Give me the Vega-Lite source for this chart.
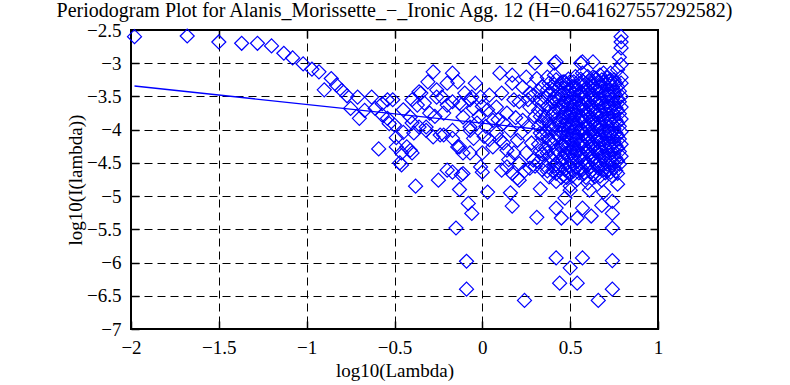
{
  "$schema": "https://vega.github.io/schema/vega-lite/v6.json",
  "width": 527,
  "height": 299,
  "autosize": {"type": "none"},
  "padding": {"left": 131, "top": 30, "right": 132, "bottom": 56},
  "background": "white",
  "title": {"text": "Periodogram Plot for Alanis_Morissette_−_Ironic Agg. 12 (H=0.641627557292582)", "font": "Liberation Serif", "fontSize": 20, "fontWeight": "normal", "color": "black", "anchor": "middle", "offset": 0},
  "config": {
    "view": {"stroke": "black", "strokeWidth": 2},
    "axis": {"domain": false, "labelFont": "Liberation Serif", "labelFontSize": 19, "labelColor": "black", "titleFont": "Liberation Serif", "titleFontSize": 19, "titleFontWeight": "normal", "titleColor": "black", "tickColor": "black", "tickWidth": 1.5, "tickSize": -8, "gridColor": "black", "gridOpacity": 1, "gridWidth": 1, "gridDash": [8, 5]}
  },
  "resolve": {"axis": {"x": "independent", "y": "independent"}},
  "layer": [
    {
      "data": {"values": [
        {"x": -1.98, "y": -2.60}, {"x": -1.68, "y": -2.59}, {"x": -1.50, "y": -2.68}, {"x": -1.37, "y": -2.70}, {"x": -1.28, "y": -2.70},
        {"x": -1.20, "y": -2.74}, {"x": -1.13, "y": -2.85}, {"x": -1.08, "y": -2.92}, {"x": -1.02, "y": -3.01}, {"x": -0.97, "y": -3.09},
        {"x": -0.93, "y": -3.13}, {"x": -0.86, "y": -3.23}, {"x": -0.83, "y": -3.33}, {"x": -0.90, "y": -3.40}, {"x": -0.80, "y": -3.41},
        {"x": -0.77, "y": -3.49}, {"x": -0.71, "y": -3.51}, {"x": -0.63, "y": -3.51}, {"x": -0.75, "y": -3.68}, {"x": -0.70, "y": -3.83},
        {"x": -0.67, "y": -3.71}, {"x": -0.61, "y": -3.68}, {"x": -0.57, "y": -3.61}, {"x": -0.54, "y": -3.83}, {"x": -0.53, "y": -3.91},
        {"x": -0.59, "y": -4.29}, {"x": -0.51, "y": -3.55}, {"x": -0.49, "y": -4.12}, {"x": -0.57, "y": -3.78}, {"x": -0.49, "y": -4.26},
        {"x": -0.46, "y": -4.35}, {"x": -0.41, "y": -4.31}, {"x": -0.47, "y": -4.50}, {"x": -0.41, "y": -3.81}, {"x": -0.37, "y": -3.63},
        {"x": -0.35, "y": -3.45}, {"x": -0.31, "y": -3.28}, {"x": -0.28, "y": -3.13}, {"x": -0.26, "y": -3.40}, {"x": -0.20, "y": -3.30},
        {"x": -0.17, "y": -3.15}, {"x": -0.14, "y": -3.28}, {"x": -0.23, "y": -3.51}, {"x": -0.20, "y": -3.63}, {"x": -0.17, "y": -3.58},
        {"x": -0.12, "y": -3.63}, {"x": -0.06, "y": -3.51}, {"x": -0.05, "y": -3.68}, {"x": -0.32, "y": -4.01}, {"x": -0.28, "y": -4.11},
        {"x": -0.36, "y": -3.96}, {"x": -0.22, "y": -4.08}, {"x": -0.17, "y": -4.01}, {"x": -0.14, "y": -4.26}, {"x": -0.11, "y": -4.35},
        {"x": -0.07, "y": -4.01}, {"x": -0.05, "y": -4.13}, {"x": -0.20, "y": -4.61}, {"x": -0.12, "y": -4.68}, {"x": -0.25, "y": -4.76},
        {"x": -0.39, "y": -4.05}, {"x": -0.45, "y": -4.04}, {"x": -0.38, "y": -4.85}, {"x": -0.13, "y": -4.90}, {"x": -0.08, "y": -5.11},
        {"x": -0.06, "y": -5.26}, {"x": -0.15, "y": -5.48}, {"x": -0.09, "y": -5.98}, {"x": -0.09, "y": -6.40}, {"x": -0.17, "y": -4.64},
        {"x": -0.46, "y": -4.53}, {"x": 0.10, "y": -3.15}, {"x": 0.17, "y": -3.18}, {"x": 0.25, "y": -3.21}, {"x": 0.30, "y": -3.00},
        {"x": 0.41, "y": -3.00}, {"x": 0.57, "y": -2.98}, {"x": 0.63, "y": -2.98}, {"x": 0.79, "y": -2.60}, {"x": 0.79, "y": -2.68},
        {"x": 0.79, "y": -2.77}, {"x": 0.78, "y": -2.91}, {"x": 0.77, "y": -3.10}, {"x": 0.79, "y": -3.21}, {"x": 0.79, "y": -3.30},
        {"x": 0.73, "y": -3.15}, {"x": 0.67, "y": -3.18}, {"x": 0.57, "y": -3.15}, {"x": 0.46, "y": -3.28}, {"x": 0.37, "y": -3.21},
        {"x": 0.31, "y": -3.23}, {"x": 0.23, "y": -3.36}, {"x": 0.17, "y": -3.30}, {"x": 0.04, "y": -3.48}, {"x": -0.01, "y": -3.51},
        {"x": -0.07, "y": -3.55}, {"x": -0.13, "y": -3.60}, {"x": -0.26, "y": -3.51}, {"x": -0.36, "y": -3.43}, {"x": -0.40, "y": -3.55},
        {"x": -0.54, "y": -3.55}, {"x": -0.50, "y": -3.93}, {"x": -0.43, "y": -4.26}, {"x": -0.40, "y": -4.35}, {"x": -0.32, "y": -3.96},
        {"x": -0.24, "y": -4.08}, {"x": -0.17, "y": -4.13}, {"x": -0.30, "y": -3.75}, {"x": -0.11, "y": -3.81}, {"x": -0.07, "y": -3.96},
        {"x": -0.13, "y": -4.26}, {"x": -0.07, "y": -4.35}, {"x": 0.00, "y": -4.35}, {"x": 0.03, "y": -3.70}, {"x": 0.08, "y": -3.66},
        {"x": 0.14, "y": -3.75}, {"x": 0.06, "y": -3.86}, {"x": 0.08, "y": -4.05}, {"x": 0.06, "y": -4.26}, {"x": 0.16, "y": -4.01},
        {"x": 0.14, "y": -4.31}, {"x": 0.20, "y": -4.16}, {"x": 0.23, "y": -3.86}, {"x": 0.27, "y": -3.66}, {"x": 0.21, "y": -3.58},
        {"x": 0.29, "y": -3.48}, {"x": 0.14, "y": -4.56}, {"x": 0.21, "y": -4.51}, {"x": 0.29, "y": -4.46}, {"x": -0.11, "y": -4.66},
        {"x": -0.01, "y": -4.56}, {"x": 0.00, "y": -4.64}, {"x": 0.03, "y": -4.94}, {"x": 0.16, "y": -4.95}, {"x": 0.17, "y": -5.15},
        {"x": 0.20, "y": -4.73}, {"x": 0.24, "y": -6.57}, {"x": 0.31, "y": -5.32}, {"x": 0.33, "y": -4.89}, {"x": 0.42, "y": -5.18},
        {"x": 0.45, "y": -5.33}, {"x": 0.54, "y": -5.33}, {"x": 0.57, "y": -5.18}, {"x": 0.62, "y": -5.30}, {"x": 0.68, "y": -5.14},
        {"x": 0.74, "y": -5.08}, {"x": 0.74, "y": -5.26}, {"x": 0.74, "y": -5.48}, {"x": 0.77, "y": -4.82}, {"x": 0.42, "y": -5.93},
        {"x": 0.50, "y": -6.08}, {"x": 0.57, "y": -5.93}, {"x": 0.74, "y": -5.97}, {"x": 0.44, "y": -6.31}, {"x": 0.54, "y": -6.31},
        {"x": 0.74, "y": -6.40}, {"x": 0.66, "y": -6.57}, {"x": 0.47, "y": -5.03}, {"x": 0.61, "y": -4.91}, {"x": 0.69, "y": -4.94},
        {"x": 0.11, "y": -4.61}, {"x": 0.17, "y": -4.66}, {"x": 0.21, "y": -4.76}, {"x": 0.27, "y": -4.58}, {"x": 0.38, "y": -4.71},
        {"x": 0.42, "y": -4.66}, {"x": 0.50, "y": -4.91}, {"x": 0.42, "y": -2.98}, {"x": 0.56, "y": -3.00}, {"x": 0.47, "y": -3.28},
        {"x": 0.41, "y": -3.18}, {"x": 0.63, "y": -3.21}, {"x": 0.69, "y": -3.15}, {"x": 0.73, "y": -3.25},
        {"x": 0.26, "y": -3.95}, {"x": 0.28, "y": -4.20}, {"x": 0.30, "y": -3.80}, {"x": 0.25, "y": -4.35}, {"x": 0.27, "y": -3.45},
        {"x": 0.24, "y": -4.62}, {"x": 0.30, "y": -4.55}, {"x": 0.18, "y": -3.55}, {"x": 0.12, "y": -3.90}, {"x": 0.10, "y": -4.15},
        {"x": 0.19, "y": -3.82}, {"x": 0.11, "y": -3.45}, {"x": 0.02, "y": -3.95}, {"x": 0.04, "y": -4.15}, {"x": -0.02, "y": -3.80},
        {"x": 0.15, "y": -4.45}, {"x": -0.45, "y": -3.70}, {"x": -0.40, "y": -3.90}, {"x": -0.33, "y": -3.60}, {"x": -0.27, "y": -3.80},
        {"x": -0.22, "y": -3.75}, {"x": -0.10, "y": -3.45}, {"x": -0.03, "y": -3.90}, {"x": 0.01, "y": -4.10}, {"x": 0.09, "y": -3.85},
        {"x": 0.12, "y": -4.20}, {"x": 0.18, "y": -4.35}, {"x": 0.22, "y": -4.05}, {"x": 0.26, "y": -3.55}, {"x": -0.04, "y": -3.30},
        {"x": 0.00, "y": -3.65},
        {"x": 0.32, "y": -3.42}, {"x": 0.32, "y": -3.71}, {"x": 0.32, "y": -3.95}, {"x": 0.32, "y": -4.22}, {"x": 0.32, "y": -4.48},
        {"x": 0.34, "y": -3.35}, {"x": 0.34, "y": -3.62}, {"x": 0.34, "y": -3.88}, {"x": 0.34, "y": -4.10}, {"x": 0.34, "y": -4.37}, {"x": 0.34, "y": -4.60},
        {"x": 0.36, "y": -3.52}, {"x": 0.36, "y": -3.80}, {"x": 0.36, "y": -4.02}, {"x": 0.36, "y": -4.28}, {"x": 0.36, "y": -4.55},
        {"x": 0.38, "y": -3.30}, {"x": 0.38, "y": -3.47}, {"x": 0.38, "y": -3.68}, {"x": 0.38, "y": -3.92}, {"x": 0.38, "y": -4.15}, {"x": 0.38, "y": -4.40},
        {"x": 0.40, "y": -3.40}, {"x": 0.40, "y": -3.58}, {"x": 0.40, "y": -3.77}, {"x": 0.40, "y": -3.98}, {"x": 0.40, "y": -4.20}, {"x": 0.40, "y": -4.45}, {"x": 0.40, "y": -4.62},
        {"x": 0.42, "y": -3.25}, {"x": 0.42, "y": -3.50}, {"x": 0.42, "y": -3.66}, {"x": 0.42, "y": -3.85}, {"x": 0.42, "y": -4.06}, {"x": 0.42, "y": -4.30}, {"x": 0.42, "y": -4.52}, {"x": 0.42, "y": -4.78},
        {"x": 0.44, "y": -3.36}, {"x": 0.44, "y": -3.55}, {"x": 0.44, "y": -3.72}, {"x": 0.44, "y": -3.93}, {"x": 0.44, "y": -4.12}, {"x": 0.44, "y": -4.35}, {"x": 0.44, "y": -4.58},
        {"x": 0.46, "y": -3.45}, {"x": 0.46, "y": -3.62}, {"x": 0.46, "y": -3.81}, {"x": 0.46, "y": -4.00}, {"x": 0.46, "y": -4.24}, {"x": 0.46, "y": -4.42}, {"x": 0.46, "y": -4.68},
        {"x": 0.48, "y": -3.32}, {"x": 0.48, "y": -3.50}, {"x": 0.48, "y": -3.70}, {"x": 0.48, "y": -3.88}, {"x": 0.48, "y": -4.08}, {"x": 0.48, "y": -4.27}, {"x": 0.48, "y": -4.50}, {"x": 0.48, "y": -4.72},
        {"x": 0.50, "y": -3.40}, {"x": 0.50, "y": -3.58}, {"x": 0.50, "y": -3.76}, {"x": 0.50, "y": -3.95}, {"x": 0.50, "y": -4.15}, {"x": 0.50, "y": -4.33}, {"x": 0.50, "y": -4.55}, {"x": 0.50, "y": -4.85},
        {"x": 0.52, "y": -3.28}, {"x": 0.52, "y": -3.46}, {"x": 0.52, "y": -3.65}, {"x": 0.52, "y": -3.84}, {"x": 0.52, "y": -4.03}, {"x": 0.52, "y": -4.22}, {"x": 0.52, "y": -4.40}, {"x": 0.52, "y": -4.62},
        {"x": 0.54, "y": -3.37}, {"x": 0.54, "y": -3.55}, {"x": 0.54, "y": -3.73}, {"x": 0.54, "y": -3.91}, {"x": 0.54, "y": -4.10}, {"x": 0.54, "y": -4.30}, {"x": 0.54, "y": -4.48}, {"x": 0.54, "y": -4.75},
        {"x": 0.56, "y": -3.24}, {"x": 0.56, "y": -3.44}, {"x": 0.56, "y": -3.62}, {"x": 0.56, "y": -3.80}, {"x": 0.56, "y": -3.99}, {"x": 0.56, "y": -4.18}, {"x": 0.56, "y": -4.36}, {"x": 0.56, "y": -4.57},
        {"x": 0.58, "y": -3.33}, {"x": 0.58, "y": -3.52}, {"x": 0.58, "y": -3.70}, {"x": 0.58, "y": -3.87}, {"x": 0.58, "y": -4.06}, {"x": 0.58, "y": -4.25}, {"x": 0.58, "y": -4.45}, {"x": 0.58, "y": -4.66},
        {"x": 0.60, "y": -3.20}, {"x": 0.60, "y": -3.41}, {"x": 0.60, "y": -3.59}, {"x": 0.60, "y": -3.77}, {"x": 0.60, "y": -3.96}, {"x": 0.60, "y": -4.14}, {"x": 0.60, "y": -4.33}, {"x": 0.60, "y": -4.52}, {"x": 0.60, "y": -4.80},
        {"x": 0.62, "y": -3.30}, {"x": 0.62, "y": -3.48}, {"x": 0.62, "y": -3.66}, {"x": 0.62, "y": -3.85}, {"x": 0.62, "y": -4.03}, {"x": 0.62, "y": -4.22}, {"x": 0.62, "y": -4.41}, {"x": 0.62, "y": -4.63},
        {"x": 0.64, "y": -3.22}, {"x": 0.64, "y": -3.38}, {"x": 0.64, "y": -3.56}, {"x": 0.64, "y": -3.74}, {"x": 0.64, "y": -3.92}, {"x": 0.64, "y": -4.10}, {"x": 0.64, "y": -4.29}, {"x": 0.64, "y": -4.49}, {"x": 0.64, "y": -4.71},
        {"x": 0.66, "y": -3.28}, {"x": 0.66, "y": -3.45}, {"x": 0.66, "y": -3.63}, {"x": 0.66, "y": -3.82}, {"x": 0.66, "y": -4.00}, {"x": 0.66, "y": -4.19}, {"x": 0.66, "y": -4.37}, {"x": 0.66, "y": -4.58},
        {"x": 0.68, "y": -3.25}, {"x": 0.68, "y": -3.42}, {"x": 0.68, "y": -3.60}, {"x": 0.68, "y": -3.78}, {"x": 0.68, "y": -3.97}, {"x": 0.68, "y": -4.15}, {"x": 0.68, "y": -4.34}, {"x": 0.68, "y": -4.54}, {"x": 0.68, "y": -4.76},
        {"x": 0.70, "y": -3.33}, {"x": 0.70, "y": -3.51}, {"x": 0.70, "y": -3.69}, {"x": 0.70, "y": -3.88}, {"x": 0.70, "y": -4.06}, {"x": 0.70, "y": -4.25}, {"x": 0.70, "y": -4.44}, {"x": 0.70, "y": -4.65},
        {"x": 0.72, "y": -3.27}, {"x": 0.72, "y": -3.46}, {"x": 0.72, "y": -3.64}, {"x": 0.72, "y": -3.83}, {"x": 0.72, "y": -4.02}, {"x": 0.72, "y": -4.20}, {"x": 0.72, "y": -4.39}, {"x": 0.72, "y": -4.60},
        {"x": 0.74, "y": -3.36}, {"x": 0.74, "y": -3.55}, {"x": 0.74, "y": -3.73}, {"x": 0.74, "y": -3.92}, {"x": 0.74, "y": -4.11}, {"x": 0.74, "y": -4.30}, {"x": 0.74, "y": -4.50}, {"x": 0.74, "y": -4.70},
        {"x": 0.76, "y": -3.30}, {"x": 0.76, "y": -3.48}, {"x": 0.76, "y": -3.67}, {"x": 0.76, "y": -3.86}, {"x": 0.76, "y": -4.05}, {"x": 0.76, "y": -4.24}, {"x": 0.76, "y": -4.43}, {"x": 0.76, "y": -4.62},
        {"x": 0.78, "y": -3.42}, {"x": 0.78, "y": -3.58}, {"x": 0.78, "y": -3.76}, {"x": 0.78, "y": -3.95}, {"x": 0.78, "y": -4.14}, {"x": 0.78, "y": -4.33}, {"x": 0.78, "y": -4.52},
        {"x": 0.79, "y": -3.02}, {"x": 0.79, "y": -3.50}, {"x": 0.79, "y": -3.66}, {"x": 0.79, "y": -3.84}, {"x": 0.79, "y": -4.03}, {"x": 0.79, "y": -4.22}, {"x": 0.79, "y": -4.40},
        {"x": 0.33, "y": -3.55}, {"x": 0.33, "y": -3.80}, {"x": 0.33, "y": -4.05}, {"x": 0.33, "y": -4.32},
        {"x": 0.37, "y": -3.40}, {"x": 0.37, "y": -3.65}, {"x": 0.37, "y": -3.87}, {"x": 0.37, "y": -4.10}, {"x": 0.37, "y": -4.35}, {"x": 0.37, "y": -4.62},
        {"x": 0.41, "y": -3.32}, {"x": 0.41, "y": -3.53}, {"x": 0.41, "y": -3.72}, {"x": 0.41, "y": -3.92}, {"x": 0.41, "y": -4.13}, {"x": 0.41, "y": -4.38}, {"x": 0.41, "y": -4.55},
        {"x": 0.45, "y": -3.30}, {"x": 0.45, "y": -3.48}, {"x": 0.45, "y": -3.66}, {"x": 0.45, "y": -3.86}, {"x": 0.45, "y": -4.05}, {"x": 0.45, "y": -4.25}, {"x": 0.45, "y": -4.48}, {"x": 0.45, "y": -4.72},
        {"x": 0.47, "y": -3.38}, {"x": 0.47, "y": -3.56}, {"x": 0.47, "y": -3.75}, {"x": 0.47, "y": -3.93}, {"x": 0.47, "y": -4.18}, {"x": 0.47, "y": -4.36}, {"x": 0.47, "y": -4.60},
        {"x": 0.49, "y": -3.24}, {"x": 0.49, "y": -3.44}, {"x": 0.49, "y": -3.62}, {"x": 0.49, "y": -3.81}, {"x": 0.49, "y": -4.00}, {"x": 0.49, "y": -4.20}, {"x": 0.49, "y": -4.40}, {"x": 0.49, "y": -4.64},
        {"x": 0.51, "y": -3.35}, {"x": 0.51, "y": -3.53}, {"x": 0.51, "y": -3.70}, {"x": 0.51, "y": -3.90}, {"x": 0.51, "y": -4.09}, {"x": 0.51, "y": -4.28}, {"x": 0.51, "y": -4.47}, {"x": 0.51, "y": -4.70},
        {"x": 0.53, "y": -3.20}, {"x": 0.53, "y": -3.41}, {"x": 0.53, "y": -3.59}, {"x": 0.53, "y": -3.78}, {"x": 0.53, "y": -3.97}, {"x": 0.53, "y": -4.16}, {"x": 0.53, "y": -4.35}, {"x": 0.53, "y": -4.56},
        {"x": 0.55, "y": -3.31}, {"x": 0.55, "y": -3.49}, {"x": 0.55, "y": -3.67}, {"x": 0.55, "y": -3.86}, {"x": 0.55, "y": -4.04}, {"x": 0.55, "y": -4.23}, {"x": 0.55, "y": -4.42}, {"x": 0.55, "y": -4.65},
        {"x": 0.57, "y": -3.27}, {"x": 0.57, "y": -3.45}, {"x": 0.57, "y": -3.64}, {"x": 0.57, "y": -3.82}, {"x": 0.57, "y": -4.01}, {"x": 0.57, "y": -4.20}, {"x": 0.57, "y": -4.39}, {"x": 0.57, "y": -4.60},
        {"x": 0.59, "y": -3.38}, {"x": 0.59, "y": -3.56}, {"x": 0.59, "y": -3.74}, {"x": 0.59, "y": -3.93}, {"x": 0.59, "y": -4.11}, {"x": 0.59, "y": -4.30}, {"x": 0.59, "y": -4.50}, {"x": 0.59, "y": -4.72},
        {"x": 0.61, "y": -3.26}, {"x": 0.61, "y": -3.44}, {"x": 0.61, "y": -3.63}, {"x": 0.61, "y": -3.81}, {"x": 0.61, "y": -4.00}, {"x": 0.61, "y": -4.18}, {"x": 0.61, "y": -4.37}, {"x": 0.61, "y": -4.57},
        {"x": 0.63, "y": -3.34}, {"x": 0.63, "y": -3.52}, {"x": 0.63, "y": -3.70}, {"x": 0.63, "y": -3.89}, {"x": 0.63, "y": -4.07}, {"x": 0.63, "y": -4.26}, {"x": 0.63, "y": -4.45}, {"x": 0.63, "y": -4.67},
        {"x": 0.65, "y": -3.24}, {"x": 0.65, "y": -3.41}, {"x": 0.65, "y": -3.60}, {"x": 0.65, "y": -3.78}, {"x": 0.65, "y": -3.96}, {"x": 0.65, "y": -4.15}, {"x": 0.65, "y": -4.33}, {"x": 0.65, "y": -4.53},
        {"x": 0.67, "y": -3.36}, {"x": 0.67, "y": -3.54}, {"x": 0.67, "y": -3.72}, {"x": 0.67, "y": -3.91}, {"x": 0.67, "y": -4.09}, {"x": 0.67, "y": -4.28}, {"x": 0.67, "y": -4.47}, {"x": 0.67, "y": -4.70},
        {"x": 0.69, "y": -3.29}, {"x": 0.69, "y": -3.47}, {"x": 0.69, "y": -3.65}, {"x": 0.69, "y": -3.84}, {"x": 0.69, "y": -4.02}, {"x": 0.69, "y": -4.21}, {"x": 0.69, "y": -4.40}, {"x": 0.69, "y": -4.60},
        {"x": 0.71, "y": -3.22}, {"x": 0.71, "y": -3.40}, {"x": 0.71, "y": -3.58}, {"x": 0.71, "y": -3.77}, {"x": 0.71, "y": -3.95}, {"x": 0.71, "y": -4.13}, {"x": 0.71, "y": -4.32}, {"x": 0.71, "y": -4.52},
        {"x": 0.73, "y": -3.31}, {"x": 0.73, "y": -3.50}, {"x": 0.73, "y": -3.68}, {"x": 0.73, "y": -3.87}, {"x": 0.73, "y": -4.06}, {"x": 0.73, "y": -4.25}, {"x": 0.73, "y": -4.45}, {"x": 0.73, "y": -4.64},
        {"x": 0.75, "y": -3.25}, {"x": 0.75, "y": -3.43}, {"x": 0.75, "y": -3.61}, {"x": 0.75, "y": -3.80}, {"x": 0.75, "y": -3.99}, {"x": 0.75, "y": -4.18}, {"x": 0.75, "y": -4.37}, {"x": 0.75, "y": -4.57},
        {"x": 0.77, "y": -3.35}, {"x": 0.77, "y": -3.53}, {"x": 0.77, "y": -3.71}, {"x": 0.77, "y": -3.90}, {"x": 0.77, "y": -4.09}, {"x": 0.77, "y": -4.28}, {"x": 0.77, "y": -4.47}, {"x": 0.77, "y": -4.66}
      ]},
      "mark": {"type": "point", "shape": "diamond", "size": 196, "filled": false, "color": "#0000ff", "strokeWidth": 1.2, "opacity": 1},
      "encoding": {
        "x": {"field": "x", "type": "quantitative", "scale": {"domain": [-2, 1], "nice": false, "zero": false},
              "axis": {"orient": "bottom", "values": [-2, -1.5, -1, -0.5, 0, 0.5, 1], "format": "~g", "title": "log10(Lambda)", "labelPadding": 17, "labelFlush": false, "titleX": 263.5, "titleY": 41, "titleBaseline": "middle", "grid": true}},
        "y": {"field": "y", "type": "quantitative", "scale": {"domain": [-7, -2.5], "nice": false, "zero": false},
              "axis": {"orient": "left", "values": [-7, -6.5, -6, -5.5, -5, -4.5, -4, -3.5, -3, -2.5], "format": "~g", "title": "log10(I(lambda))", "labelPadding": 18, "labelFlush": false, "titleX": -56, "titleY": 149.5, "titleBaseline": "middle", "grid": true}}
      }
    },
    {
      "data": {"values": [{"x": -1.98, "y": -3.343}, {"x": 0.79, "y": -4.127}]},
      "mark": {"type": "line", "color": "#0000ff", "strokeWidth": 1.3},
      "encoding": {
        "x": {"field": "x", "type": "quantitative", "scale": {"domain": [-2, 1], "nice": false, "zero": false},
              "axis": {"orient": "top", "values": [-1.5, -1, -0.5, 0, 0.5], "labels": false, "title": null, "grid": false}},
        "y": {"field": "y", "type": "quantitative", "scale": {"domain": [-7, -2.5], "nice": false, "zero": false},
              "axis": {"orient": "right", "values": [-6.5, -6, -5.5, -5, -4.5, -4, -3.5, -3], "labels": false, "title": null, "grid": false}}
      }
    }
  ]
}
